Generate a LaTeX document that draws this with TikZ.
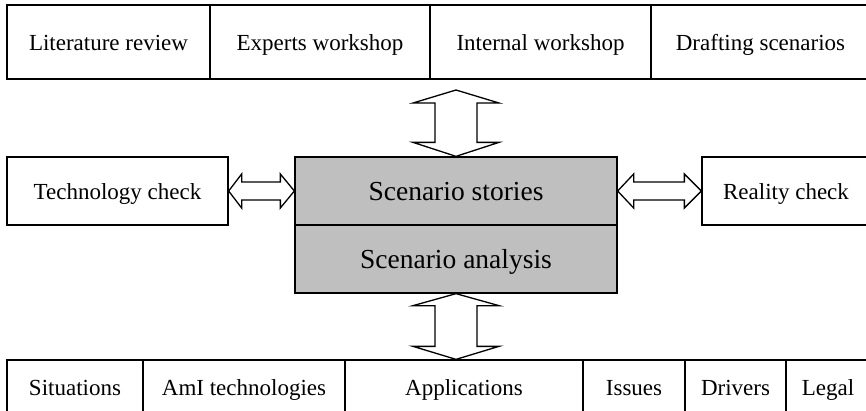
\documentclass[tikz,border=0pt]{standalone}
\usepackage{fontspec}
\setmainfont{Liberation Serif}
\usetikzlibrary{calc}
\begin{document}
\begin{tikzpicture}[x=1pt,y=-1pt,
  box/.style={draw=black,line width=1.3pt,inner sep=0pt,text height=18pt,text depth=2pt,font=\fontsize{23}{27}\selectfont},
  cbox/.style={box,fill=black!25,text height=21.5pt,text depth=3pt,font=\fontsize{27.5}{32}\selectfont},
  arr/.style={draw=black,fill=white,line width=1.3pt,line join=miter}]
\useasboundingbox (0,0) rectangle (866,410);
\begin{scope}
\clip (0,0) rectangle (866,410);
% top row
\node[box,minimum width=203pt,minimum height=74pt] (lit) at (108.5,42) {Literature review};
\node[box,minimum width=220pt,minimum height=74pt] (exp) at (320,42) {Experts workshop};
\node[box,minimum width=221pt,minimum height=74pt] (int) at (540.5,42) {Internal workshop};
\node[box,minimum width=219pt,minimum height=74pt] (dra) at (760.5,42) {Drafting scenarios};
% middle
\node[box,minimum width=221pt,minimum height=68pt] (tech) at (117.5,191) {Technology check};
\node[cbox,minimum width=322pt,minimum height=68pt] (stories) at (456,191) {Scenario stories};
\node[cbox,minimum width=322pt,minimum height=68pt] (analysis) at (456,259) {Scenario analysis};
\node[box,minimum width=168pt,minimum height=68pt] (real) at (786,191) {Reality check};
% bottom row
\node[box,minimum width=136pt,minimum height=54pt] (sit) at (75,387) {Situations};
\node[box,minimum width=202pt,minimum height=54pt] (ami) at (244,387) {AmI technologies};
\node[box,minimum width=238pt,minimum height=54pt] (app) at (464,387) {Applications};
\node[box,minimum width=102pt,minimum height=54pt] (iss) at (634,387) {Issues};
\node[box,minimum width=101pt,minimum height=54pt] (drv) at (735.5,387) {Drivers};
\node[box,minimum width=84pt,minimum height=54pt] (leg) at (828,387) {Legal};
\end{scope}
% connectors
\coordinate (ttop) at (456,90);
\coordinate (bbot) at (analysis.south |- app.north);
% left double arrow
\draw[arr] (tech.east) -- ++(13,-17) -- ++(0,8) -- ($(stories.west)+(-14,-9)$) -- ++(0,-8)
  -- (stories.west) -- ++(-14,17) -- ++(0,-8) -- ($(tech.east)+(13,9)$) -- ++(0,8) -- cycle;
% right double arrow
\draw[arr] (stories.east) -- ++(16,-17) -- ++(0,8) -- ($(real.west)+(-17,-9)$) -- ++(0,-8)
  -- (real.west) -- ++(-17,17) -- ++(0,-8) -- ($(stories.east)+(16,9)$) -- ++(0,8) -- cycle;
% top double arrow
\draw[arr] (ttop) -- ++(43,13) -- ++(-22,0) -- ($(stories.north)+(21,-14)$) -- ++(22,0)
  -- (stories.north) -- ++(-43,-14) -- ++(22,0) -- ($(ttop)+(-21,13)$) -- ++(-22,0) -- cycle;
% bottom double arrow
\draw[arr] (analysis.south) -- ++(43,12) -- ++(-22,0) -- ($(bbot)+(21,-13)$) -- ++(22,0)
  -- (bbot) -- ++(-43,-13) -- ++(22,0) -- ($(analysis.south)+(-21,12)$) -- ++(-22,0) -- cycle;
\end{tikzpicture}
\end{document}
